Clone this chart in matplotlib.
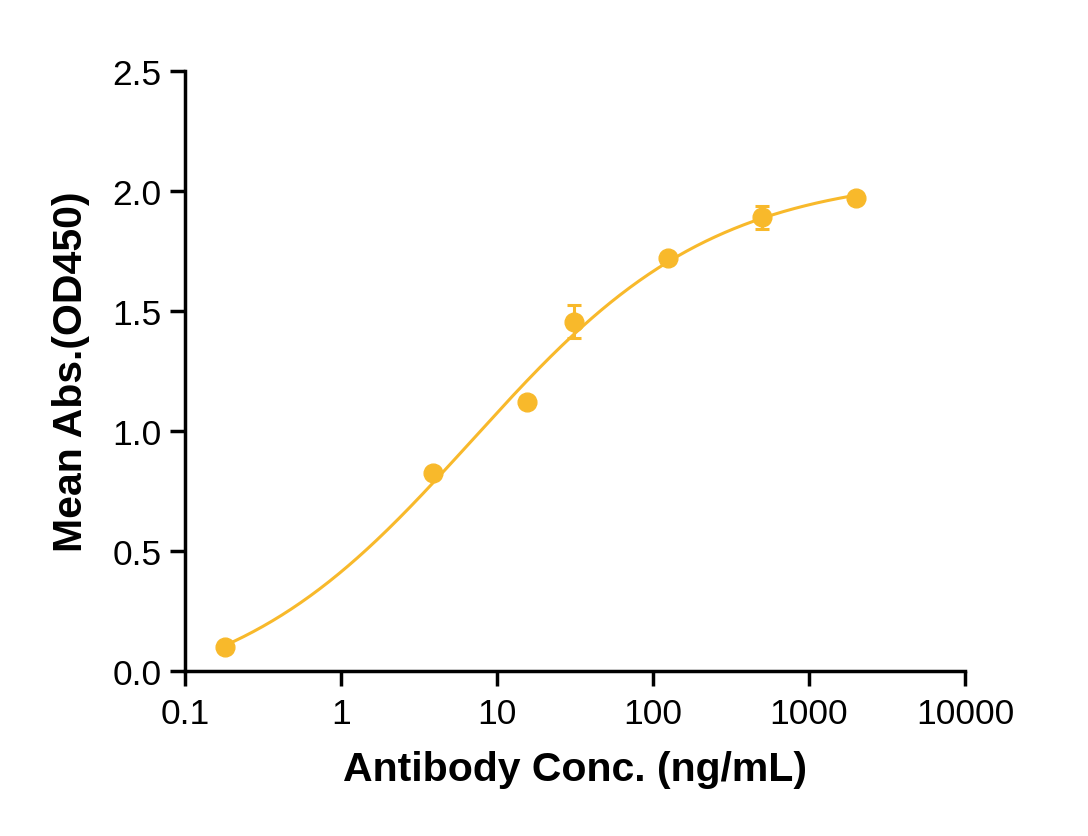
import numpy as np
import matplotlib
matplotlib.use("Agg")
import matplotlib.pyplot as plt
from matplotlib.ticker import FixedLocator, NullLocator

# Data
conc = [0.18, 3.9, 15.6, 31.25, 125, 500, 2000]
mean_abs = [0.10, 0.825, 1.12, 1.455, 1.72, 1.89, 1.97]
err = [0.0, 0.0, 0.0, 0.069, 0.0, 0.047, 0.0]

x_ticks = [0.1, 1, 10, 100, 1000, 10000]
x_tick_labels = ["0.1", "1", "10", "100", "1000", "10000"]
y_ticks = [0.0, 0.5, 1.0, 1.5, 2.0, 2.5]
y_tick_labels = ["0.0", "0.5", "1.0", "1.5", "2.0", "2.5"]

color = "#F8B92B"

# 4-parameter logistic fit of the points (grid on EC50/Hill, linear LSQ for bottom/top)
xd = np.array(conc, float)
yd = np.array(mean_abs, float)
best = None
for lec in np.linspace(-1, 3, 401):
    for h in np.linspace(0.2, 2.0, 181):
        s = 1.0 / (1.0 + (10 ** lec / xd) ** h)
        A = np.column_stack([np.ones_like(s), s])
        coef, *_ = np.linalg.lstsq(A, yd, rcond=None)
        r = np.sum((A @ coef - yd) ** 2)
        if best is None or r < best[0]:
            best = (r, lec, h, coef)
_, lec, h, coef = best
xf = np.logspace(np.log10(xd.min()), np.log10(xd.max()), 400)
yf = coef[0] + coef[1] / (1.0 + (10 ** lec / xf) ** h)

plt.rcParams["font.family"] = ["Liberation Sans", "DejaVu Sans"]

fig = plt.figure(figsize=(10.88, 8.37), dpi=100)
ax = fig.add_axes([0.170, 0.197, 0.717, 0.717])

ax.plot(xf, yf, color=color, lw=2.2, zorder=2)
ax.errorbar(conc, mean_abs, yerr=err, fmt="o", color=color, ms=13.5,
            elinewidth=2.2, capsize=5, capthick=2.2, zorder=3)

ax.set_xscale("log")
ax.set_xlim(0.1, 10000)
ax.set_ylim(0, 2.5)
ax.xaxis.set_major_locator(FixedLocator(x_ticks))
ax.xaxis.set_minor_locator(NullLocator())
ax.set_xticks(x_ticks)
ax.set_xticklabels(x_tick_labels)
ax.set_yticks(y_ticks)
ax.set_yticklabels(y_tick_labels)

for s in ["top", "right"]:
    ax.spines[s].set_visible(False)
for s in ["left", "bottom"]:
    ax.spines[s].set_linewidth(2.5)
ax.tick_params(axis="both", which="major", length=11, width=2.5,
               labelsize=25.5, direction="out")
ax.tick_params(axis="y", pad=6)
ax.tick_params(axis="x", pad=8)

ax.set_xlabel("Antibody Conc. (ng/mL)", fontsize=29.5, fontweight="bold", labelpad=14)
ax.set_ylabel("Mean Abs.(OD450)", fontsize=29.5, fontweight="bold", labelpad=16)

fig.savefig("out.png", dpi=100)
